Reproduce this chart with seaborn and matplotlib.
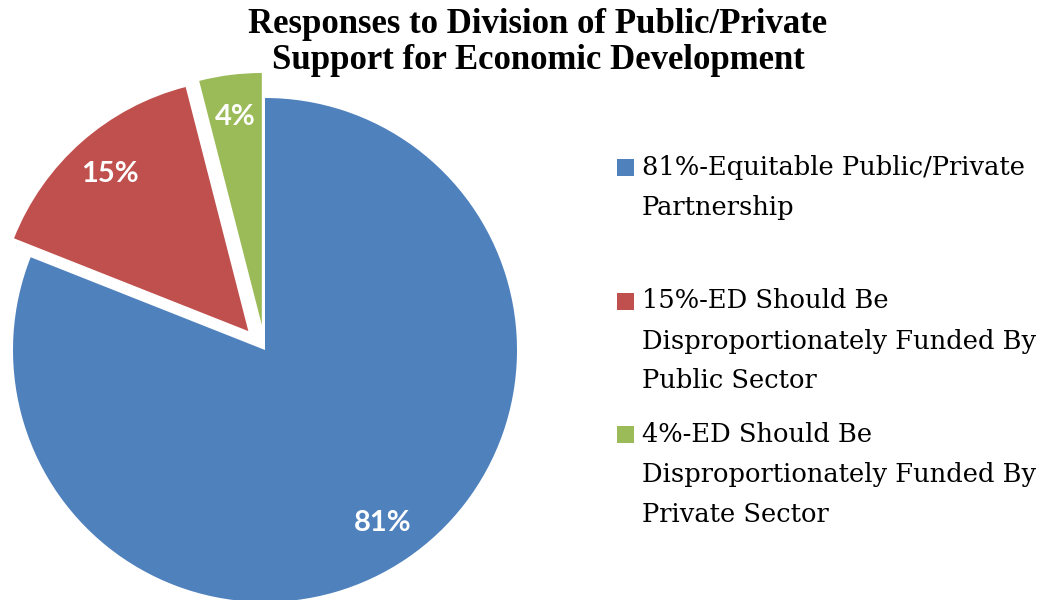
import matplotlib
matplotlib.use("Agg")
import matplotlib.pyplot as plt
from matplotlib.patches import Rectangle
import seaborn as sns

# Survey results
categories = [
    "81%-Equitable Public/Private\nPartnership",
    "15%-ED Should Be\nDisproportionately Funded By\nPublic Sector",
    "4%-ED Should Be\nDisproportionately Funded By\nPrivate Sector",
]
shares = [81, 15, 4]
title_lines = ["Responses to Division of Public/Private",
               "Support for Economic Development"]

sns.set_theme(style="white")
colors = sns.color_palette(["#4F81BD", "#C0504D", "#9BBB59"])

W, H = 1044, 600
fig = plt.figure(figsize=(W / 100, H / 100), dpi=100)
fig.patch.set_facecolor("white")


def fx(px):
    return px / W


def fy(py):
    return 1 - py / H


# pie axes: centre at (265, 350) px, radius 252 px
R = 252.0
ax = fig.add_axes([0, 0, 530 / W, 1])
wedges, texts, autotexts = ax.pie(
    shares,
    colors=colors,
    startangle=90,
    counterclock=False,
    explode=[0, 0.1, 0.1],
    autopct=lambda p: f"{p:.0f}%",
    pctdistance=0.83,
    wedgeprops=dict(linewidth=0),
    textprops=dict(color="white", fontweight="bold", family="Lato", fontsize=21),
)
ax.set_aspect("auto")
ax.set_xlim(-265 / R, 265 / R)
ax.set_ylim(-250 / R, 350 / R)
ax.axis("off")

# title, one baseline per line
for line, base in zip(title_lines, [33, 69]):
    fig.text(fx(538), fy(base), line, ha="center", va="baseline",
             family="Liberation Serif", fontweight="bold", fontsize=25,
             color="black")

# legend entries, evenly spaced
serif = "DejaVu Serif"
first_baselines = [175, 308.5, 442]
line_step = 40
for wedge, label, base in zip(wedges, categories, first_baselines):
    fig.patches.append(Rectangle((fx(617), fy(base + 1)), 17 / W, 17 / H,
                                 transform=fig.transFigure,
                                 facecolor=wedge.get_facecolor(),
                                 edgecolor="none"))
    for k, line in enumerate(label.split("\n")):
        fig.text(fx(642), fy(base + k * line_step), line, ha="left",
                 va="baseline", family=serif, fontsize=18.5, color="black")

fig.savefig("out.png", dpi=100, facecolor="white")
